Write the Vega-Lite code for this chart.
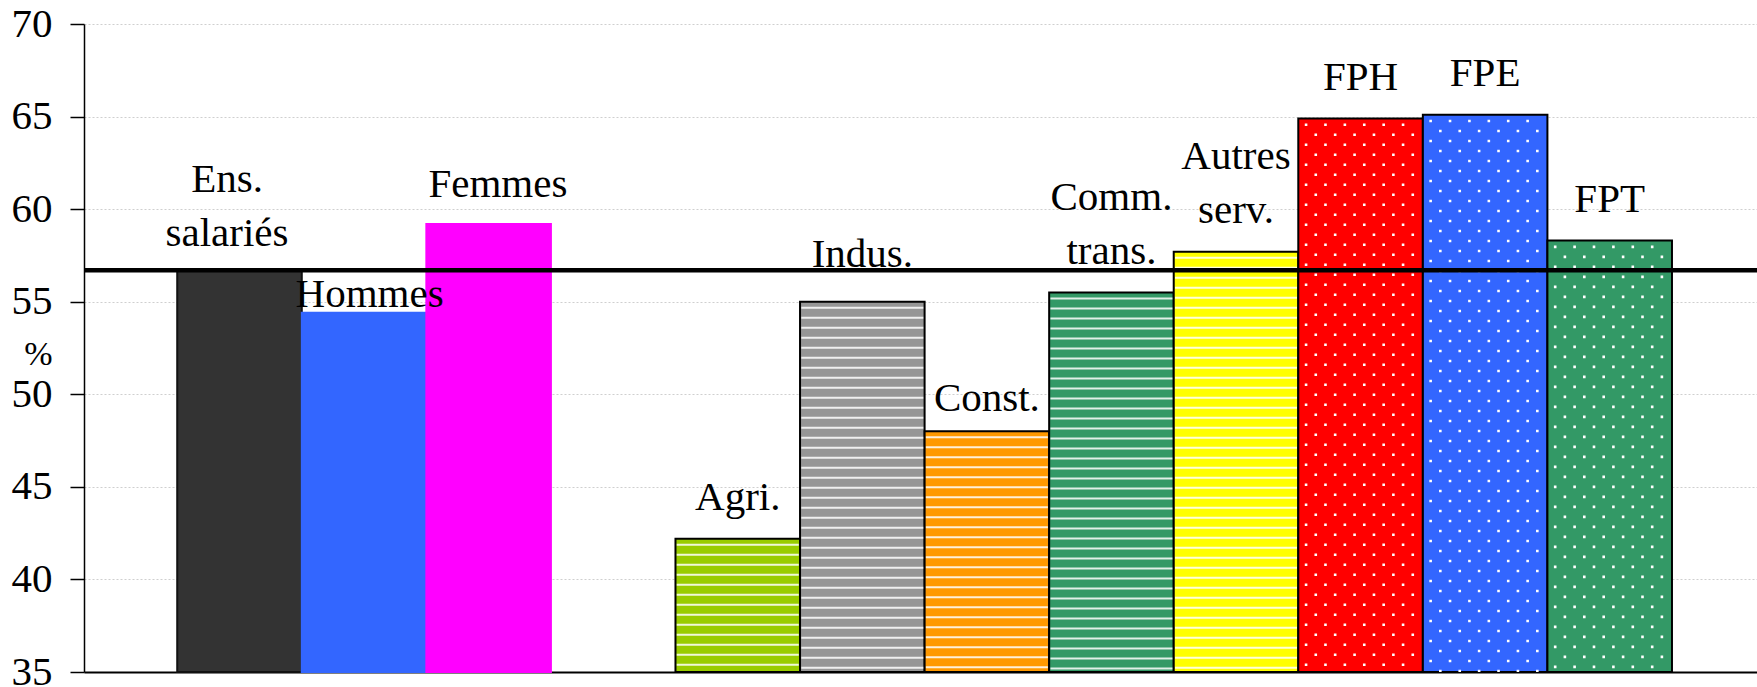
{
  "$schema": "https://vega.github.io/schema/vega-lite/v6.json",
  "width": 1673,
  "height": 648,
  "autosize": {"type": "none"},
  "padding": {"left": 84, "top": 24, "right": 0, "bottom": 15},
  "background": "white",
  "config": {"view": {"stroke": null}, "font": "Liberation Serif"},
  "data": {
    "values": [
      {"cat": "Ens.", "lab": "Ens.\nsalariés", "v": 56.7},
      {"cat": "Hommes", "lab": "Hommes", "v": 54.4},
      {"cat": "Femmes", "lab": "Femmes", "v": 59.2},
      {"cat": "Agri.", "lab": "Agri.", "v": 42.2},
      {"cat": "Indus.", "lab": "Indus.", "v": 55.0},
      {"cat": "Const.", "lab": "Const.", "v": 48.0},
      {"cat": "Comm.", "lab": "Comm.\ntrans.", "v": 55.5},
      {"cat": "Autres", "lab": "Autres\nserv.", "v": 57.7},
      {"cat": "FPH", "lab": "FPH", "v": 64.9},
      {"cat": "FPE", "lab": "FPE", "v": 65.1},
      {"cat": "FPT", "lab": "FPT", "v": 58.3}
    ]
  },
  "layer": [
    {
      "encoding": {
        "x": {
          "field": "cat", "type": "nominal", "sort": null,
          "scale": {
            "domain": ["Ens.", "Hommes", "Femmes", "_", "Agri.", "Indus.", "Const.", "Comm.", "Autres", "FPH", "FPE", "FPT"],
            "paddingInner": 0, "paddingOuter": 0.7155, "align": 0.523
          },
          "axis": {"labels": false, "ticks": false, "title": null, "grid": false, "domainColor": "black", "domainWidth": 2}
        },
        "y": {
          "field": "v", "type": "quantitative",
          "scale": {"domain": [35, 70], "nice": false, "zero": false},
          "axis": {
            "values": [35, 40, 45, 50, 55, 60, 65, 70],
            "grid": true, "gridColor": "#cfcfcf", "gridDash": [2, 2], "gridWidth": 1,
            "domainColor": "black", "domainWidth": 1.5,
            "tickColor": "black", "tickSize": 14, "tickWidth": 1.5,
            "labelFont": "Liberation Serif", "labelFontSize": 41, "labelColor": "black", "labelPadding": 18,
            "title": "%", "titleAngle": 0, "titleFont": "Liberation Serif", "titleFontSize": 34,
            "titleFontWeight": "normal", "titleColor": "black", "titleX": -46, "titleY": 330,
            "titleAlign": "center", "titleBaseline": "middle"
          }
        }
      },
      "layer": [
        {
          "mark": {"type": "bar", "strokeWidth": 2},
          "encoding": {
            "y2": {"datum": 35},
            "fill": {
              "field": "cat", "type": "nominal", "legend": null,
              "scale": {
                "domain": ["Ens.", "Hommes", "Femmes", "Agri.", "Indus.", "Const.", "Comm.", "Autres", "FPH", "FPE", "FPT"],
                "range": ["#333333", "#3366FF", "#FF00FF", "#99CC00", "#969696", "#FF9900", "#339966", "#FFFF00", "#FF0000", "#3366FF", "#339966"]
              }
            },
            "stroke": {
              "field": "cat", "type": "nominal", "legend": null,
              "scale": {
                "domain": ["Ens.", "Hommes", "Femmes", "Agri.", "Indus.", "Const.", "Comm.", "Autres", "FPH", "FPE", "FPT"],
                "range": ["#111111", "#3366FF", "#FF00FF", "#000000", "#000000", "#000000", "#000000", "#000000", "#000000", "#000000", "#000000"]
              }
            }
          }
        },
        {
          "transform": [{"filter": {"field": "cat", "oneOf": ["Agri.", "Indus.", "Const.", "Comm.", "Autres"]}}],
          "mark": {"type": "rule", "stroke": "white", "strokeWidth": 122, "strokeDash": [2, 8], "strokeDashOffset": 5, "strokeOpacity": 0.85},
          "encoding": {"y2": {"datum": 35}}
        },
        {
          "transform": [{"filter": {"field": "cat", "oneOf": ["FPH", "FPE", "FPT"]}}],
          "encoding": {"y2": {"datum": 35}},
          "layer": [
            {"mark": {"type": "rule", "stroke": "white", "strokeWidth": 2.6, "strokeDash": [2.6, 17.4], "strokeDashOffset": 15, "xOffset": -54.5}, "encoding": {}},
            {"mark": {"type": "rule", "stroke": "white", "strokeWidth": 2.6, "strokeDash": [2.6, 17.4], "strokeDashOffset": 5, "xOffset": -44.8}, "encoding": {}},
            {"mark": {"type": "rule", "stroke": "white", "strokeWidth": 2.6, "strokeDash": [2.6, 17.4], "strokeDashOffset": 15, "xOffset": -35.1}, "encoding": {}},
            {"mark": {"type": "rule", "stroke": "white", "strokeWidth": 2.6, "strokeDash": [2.6, 17.4], "strokeDashOffset": 5, "xOffset": -25.4}, "encoding": {}},
            {"mark": {"type": "rule", "stroke": "white", "strokeWidth": 2.6, "strokeDash": [2.6, 17.4], "strokeDashOffset": 15, "xOffset": -15.7}, "encoding": {}},
            {"mark": {"type": "rule", "stroke": "white", "strokeWidth": 2.6, "strokeDash": [2.6, 17.4], "strokeDashOffset": 5, "xOffset": -6.0}, "encoding": {}},
            {"mark": {"type": "rule", "stroke": "white", "strokeWidth": 2.6, "strokeDash": [2.6, 17.4], "strokeDashOffset": 15, "xOffset": 3.7}, "encoding": {}},
            {"mark": {"type": "rule", "stroke": "white", "strokeWidth": 2.6, "strokeDash": [2.6, 17.4], "strokeDashOffset": 5, "xOffset": 13.4}, "encoding": {}},
            {"mark": {"type": "rule", "stroke": "white", "strokeWidth": 2.6, "strokeDash": [2.6, 17.4], "strokeDashOffset": 15, "xOffset": 23.1}, "encoding": {}},
            {"mark": {"type": "rule", "stroke": "white", "strokeWidth": 2.6, "strokeDash": [2.6, 17.4], "strokeDashOffset": 5, "xOffset": 32.8}, "encoding": {}},
            {"mark": {"type": "rule", "stroke": "white", "strokeWidth": 2.6, "strokeDash": [2.6, 17.4], "strokeDashOffset": 15, "xOffset": 42.5}, "encoding": {}},
            {"mark": {"type": "rule", "stroke": "white", "strokeWidth": 2.6, "strokeDash": [2.6, 17.4], "strokeDashOffset": 5, "xOffset": 52.2}, "encoding": {}}
          ]
        },
        {
          "transform": [{"filter": {"field": "cat", "oneOf": ["Agri.", "FPH", "FPE", "FPT"]}}],
          "mark": {"type": "text", "font": "Liberation Serif", "fontSize": 41, "baseline": "bottom", "lineHeight": 54, "lineBreak": "\n", "align": "center", "fill": "black", "dy": -19.5},
          "encoding": {"text": {"field": "lab"}}
        },
        {
          "transform": [{"filter": {"field": "cat", "oneOf": ["Comm.", "Autres"]}}],
          "mark": {"type": "text", "font": "Liberation Serif", "fontSize": 41, "baseline": "bottom", "lineHeight": 54, "lineBreak": "\n", "align": "center", "fill": "black", "dy": -73.5},
          "encoding": {"text": {"field": "lab"}}
        },
        {
          "transform": [{"filter": {"field": "cat", "equal": "Femmes"}}],
          "mark": {"type": "text", "font": "Liberation Serif", "fontSize": 41, "baseline": "bottom", "lineHeight": 54, "lineBreak": "\n", "align": "center", "fill": "black", "dy": -18, "dx": 9.3},
          "encoding": {"text": {"field": "lab"}}
        },
        {
          "transform": [{"filter": {"field": "cat", "equal": "Ens."}}],
          "mark": {"type": "text", "font": "Liberation Serif", "fontSize": 41, "baseline": "bottom", "lineHeight": 54, "lineBreak": "\n", "align": "center", "fill": "black", "dy": -69.5, "dx": -12.5},
          "encoding": {"text": {"field": "lab"}}
        },
        {
          "transform": [{"filter": {"field": "cat", "equal": "Hommes"}}],
          "mark": {"type": "text", "font": "Liberation Serif", "fontSize": 41, "baseline": "bottom", "lineHeight": 54, "lineBreak": "\n", "align": "center", "fill": "black", "dy": 3.4, "dx": 5.5},
          "encoding": {"text": {"field": "lab"}}
        },
        {
          "transform": [{"filter": {"field": "cat", "equal": "Indus."}}],
          "mark": {"type": "text", "font": "Liberation Serif", "fontSize": 41, "baseline": "bottom", "lineHeight": 54, "lineBreak": "\n", "align": "center", "fill": "black", "dy": -26},
          "encoding": {"text": {"field": "lab"}}
        },
        {
          "transform": [{"filter": {"field": "cat", "equal": "Const."}}],
          "mark": {"type": "text", "font": "Liberation Serif", "fontSize": 41, "baseline": "bottom", "lineHeight": 54, "lineBreak": "\n", "align": "center", "fill": "black", "dy": -11},
          "encoding": {"text": {"field": "lab"}}
        }
      ]
    },
    {
      "transform": [{"filter": {"field": "cat", "equal": "Ens."}}],
      "mark": {"type": "rule", "stroke": "black", "strokeWidth": 4.5},
      "encoding": {
        "y": {
          "field": "v", "type": "quantitative",
          "scale": {"domain": [35, 70], "nice": false, "zero": false},
          "axis": {
            "values": [35, 40, 45, 50, 55, 60, 65, 70],
            "grid": true, "gridColor": "#cfcfcf", "gridDash": [2, 2], "gridWidth": 1,
            "domainColor": "black", "domainWidth": 1.5,
            "tickColor": "black", "tickSize": 14, "tickWidth": 1.5,
            "labelFont": "Liberation Serif", "labelFontSize": 41, "labelColor": "black", "labelPadding": 18,
            "title": "%", "titleAngle": 0, "titleFont": "Liberation Serif", "titleFontSize": 34,
            "titleFontWeight": "normal", "titleColor": "black", "titleX": -46, "titleY": 330,
            "titleAlign": "center", "titleBaseline": "middle"
          }
        }
      }
    }
  ]
}
